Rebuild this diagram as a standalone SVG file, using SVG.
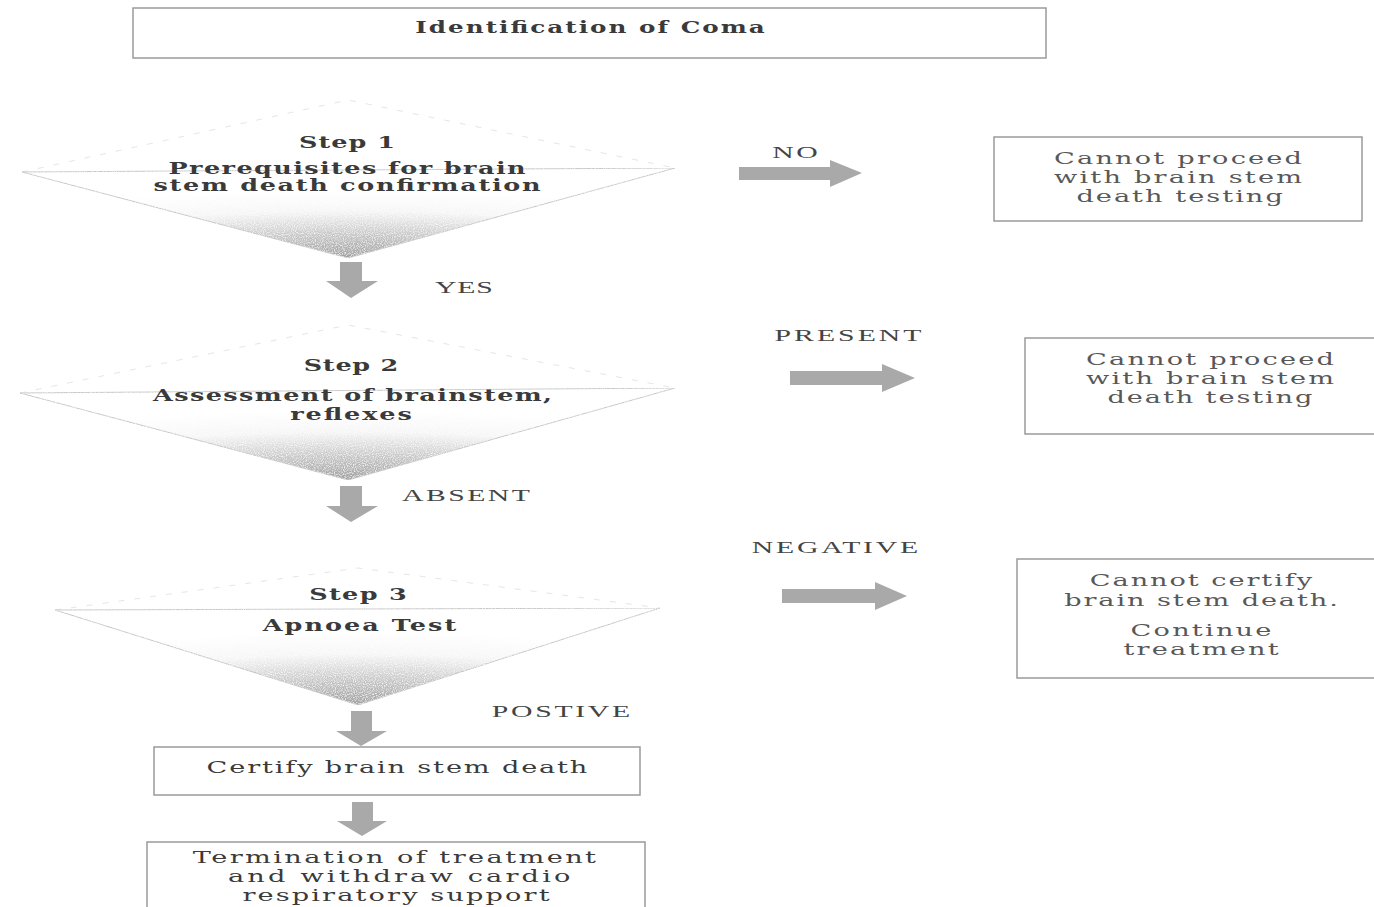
<svg xmlns="http://www.w3.org/2000/svg" width="1374" height="907" viewBox="0 0 1374 907">
<style>
.box{fill:#fff;stroke:#9a9a9a;stroke-width:1.5}
.tri{stroke:#c4c4c4;stroke-width:1}
.faint{fill:none;stroke:#e6e6e6;stroke-width:1;stroke-dasharray:6 10}
.step{font-family:"DejaVu Serif",serif;font-weight:bold;font-size:17px;fill:#3a3a3a;text-anchor:middle}
.bx{font-family:"DejaVu Serif",serif;font-size:17px;fill:#585858;text-anchor:middle}
.bxd{font-family:"DejaVu Serif",serif;font-size:17px;fill:#3a3a3a;text-anchor:middle}
.lbl{font-family:"Liberation Serif",serif;font-size:17px;fill:#444;text-anchor:middle}
.arr{fill:#a9a9a9}
</style>
<defs>
<radialGradient id="g" cx="0.5" cy="1" r="0.75" fx="0.5" fy="1">
<stop offset="0" stop-color="#a0a0a0"/>
<stop offset="0.35" stop-color="#c8c8c8"/>
<stop offset="0.7" stop-color="#f6f6f6"/>
<stop offset="1" stop-color="#ffffff"/>
</radialGradient>
<filter id="speck" x="0" y="0" width="1" height="1">
<feTurbulence type="fractalNoise" baseFrequency="0.9" numOctaves="1" seed="3" result="n"/>
<feColorMatrix in="n" type="matrix" values="0 0 0 0 1  0 0 0 0 1  0 0 0 0 1  0 0 0 -2.2 1.25" result="w"/>
<feComposite in="w" in2="SourceGraphic" operator="in" result="wc"/>
<feMerge><feMergeNode in="SourceGraphic"/><feMergeNode in="wc"/></feMerge>
</filter>
</defs>

<g id="connectors">
<path class="arr" d="M340,262 H362 V281 H378 L351,298 L326,281 H340 Z"/>
<path class="arr" d="M340,486 H362 V506 H378 L351,522 L326,506 H340 Z"/>
<path class="arr" d="M351,711 H372 V731 H387 L361,746 L336,731 H351 Z"/>
<path class="arr" d="M352,802 H373 V821 H387 L362,836 L337,821 H352 Z"/>
<path class="arr" d="M739,167 H830 V160 L862,173 L830,187 V180 H739 Z"/>
<path class="arr" d="M790,371 H882 V364 L915,378 L882,392 V385 H790 Z"/>
<path class="arr" d="M782,589 H875 V582 L907,596 L875,610 V603 H782 Z"/>
<text class="lbl" x="795" y="158" transform="translate(795 0) scale(1.75 1) translate(-795 0)" textLength="26" lengthAdjust="spacing">NO</text>
<text class="lbl" x="464" y="293" transform="translate(464 0) scale(1.75 1) translate(-464 0)" textLength="33" lengthAdjust="spacing">YES</text>
<text class="lbl" x="848" y="341" transform="translate(848 0) scale(1.75 1) translate(-848 0)" textLength="84" lengthAdjust="spacing">PRESENT</text>
<text class="lbl" x="466" y="501" transform="translate(466 0) scale(1.75 1) translate(-466 0)" textLength="73" lengthAdjust="spacing">ABSENT</text>
<text class="lbl" x="835" y="553" transform="translate(835 0) scale(1.75 1) translate(-835 0)" textLength="95" lengthAdjust="spacing">NEGATIVE</text>
<text class="lbl" x="561" y="717" transform="translate(561 0) scale(1.75 1) translate(-561 0)" textLength="79" lengthAdjust="spacing">POSTIVE</text>
</g>

<g id="coma">
<rect class="box" x="133" y="8" width="913" height="50"/>
<text class="bxd" x="590" y="33" font-weight="bold" font-size="16px" transform="translate(590 0) scale(1.45 1) translate(-590 0)" textLength="241" lengthAdjust="spacing">Identification of Coma</text>
</g>

<g id="step1">
<path class="faint" d="M22,172 L348,100 L675,168"/>
<path class="tri" fill="url(#g)" filter="url(#speck)" d="M22,172 L675,168 L348,258 Z"/>
<g transform="translate(347 0) scale(1.5 1) translate(-347 0)">
<text class="step" x="347" y="148" textLength="64" lengthAdjust="spacing">Step 1</text>
<text class="step" x="347" y="174" textLength="238" lengthAdjust="spacing">Prerequisites for brain</text>
<text class="step" x="347" y="191" textLength="258" lengthAdjust="spacing">stem death confirmation</text>
</g>
</g>

<g id="step2">
<path class="faint" d="M20,393 L348,325 L675,388"/>
<path class="tri" fill="url(#g)" filter="url(#speck)" d="M20,393 L675,388 L348,480 Z"/>
<g transform="translate(351 0) scale(1.5 1) translate(-351 0)">
<text class="step" x="351" y="371" textLength="63" lengthAdjust="spacing">Step 2</text>
<text class="step" x="352" y="401" textLength="266" lengthAdjust="spacing">Assessment of brainstem,</text>
<text class="step" x="351" y="420" textLength="81" lengthAdjust="spacing">reflexes</text>
</g>
</g>

<g id="step3">
<path class="faint" d="M55,610 L358,568 L660,608"/>
<path class="tri" fill="url(#g)" filter="url(#speck)" d="M55,610 L660,608 L358,705 Z"/>
<g transform="translate(358 0) scale(1.5 1) translate(-358 0)">
<text class="step" x="358" y="600" textLength="65" lengthAdjust="spacing">Step 3</text>
<text class="step" x="359" y="631" textLength="129" lengthAdjust="spacing">Apnoea Test</text>
</g>
</g>

<g id="no-box">
<rect class="box" x="994" y="137" width="368" height="84"/>
<g transform="translate(1178 0) scale(1.6 1) translate(-1178 0)">
<text class="bx" x="1178" y="164" textLength="155" lengthAdjust="spacing">Cannot proceed</text>
<text class="bx" x="1178" y="183" textLength="155" lengthAdjust="spacing">with brain stem</text>
<text class="bx" x="1179" y="202" textLength="129" lengthAdjust="spacing">death testing</text>
</g>
</g>

<g id="present-box">
<rect class="box" x="1025" y="338" width="360" height="96"/>
<g transform="translate(1210 0) scale(1.6 1) translate(-1210 0)">
<text class="bx" x="1210" y="365" textLength="155" lengthAdjust="spacing">Cannot proceed</text>
<text class="bx" x="1210" y="384" textLength="155" lengthAdjust="spacing">with brain stem</text>
<text class="bx" x="1210" y="403" textLength="128" lengthAdjust="spacing">death testing</text>
</g>
</g>

<g id="negative-box">
<rect class="box" x="1017" y="559" width="368" height="119"/>
<g transform="translate(1201 0) scale(1.6 1) translate(-1201 0)">
<text class="bx" x="1201" y="586" textLength="139" lengthAdjust="spacing">Cannot certify</text>
<text class="bx" x="1201" y="606" textLength="171" lengthAdjust="spacing">brain stem death.</text>
<text class="bx" x="1201" y="636" textLength="88" lengthAdjust="spacing">Continue</text>
<text class="bx" x="1201" y="655" textLength="97" lengthAdjust="spacing">treatment</text>
</g>
</g>

<g id="certify">
<rect class="box" x="154" y="747" width="486" height="48"/>
<text class="bxd" x="397" y="773" transform="translate(397 0) scale(1.6 1) translate(-397 0)" textLength="238" lengthAdjust="spacing">Certify brain stem death</text>
</g>

<g id="termination">
<rect class="box" x="147" y="842" width="498" height="75"/>
<g transform="translate(396 0) scale(1.6 1) translate(-396 0)">
<text class="bxd" x="395" y="863" textLength="252" lengthAdjust="spacing">Termination of treatment</text>
<text class="bxd" x="398" y="882" textLength="214" lengthAdjust="spacing">and withdraw cardio</text>
<text class="bxd" x="396" y="901" textLength="192" lengthAdjust="spacing">respiratory support</text>
</g>
</g>
</svg>
